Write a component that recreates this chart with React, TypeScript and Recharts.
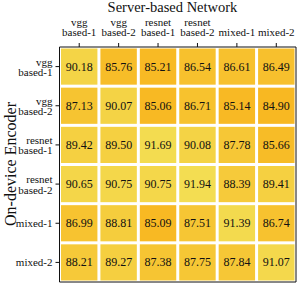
import React from "react";
import { ScatterChart, Scatter, XAxis, YAxis, ReferenceArea } from "recharts";

const serverNets = ["vgg\nbased-1", "vgg\nbased-2", "resnet\nbased-1", "resnet\nbased-2", "mixed-1", "mixed-2"];
const encoders = ["vgg\nbased-1", "vgg\nbased-2", "resnet\nbased-1", "resnet\nbased-2", "mixed-1", "mixed-2"];

const rowVgg1 = [90.18, 85.76, 85.21, 86.54, 86.61, 86.49];
const rowVgg2 = [87.13, 90.07, 85.06, 86.71, 85.14, 84.9];
const rowRes1 = [89.42, 89.5, 91.69, 90.08, 87.78, 85.66];
const rowRes2 = [90.65, 90.75, 90.75, 91.94, 88.39, 89.41];
const rowMix1 = [86.99, 88.81, 85.09, 87.51, 91.39, 86.74];
const rowMix2 = [88.21, 89.27, 87.38, 87.75, 87.84, 91.07];

const rows = [rowVgg1, rowVgg2, rowRes1, rowRes2, rowMix1, rowMix2];

const cells = rows.flatMap((r, i) => r.map((v, j) => ({ x: j + 0.5, y: i + 0.5, v })));
const ticks = [0.5, 1.5, 2.5, 3.5, 4.5, 5.5];

const W = 299;
const H = 286;
const margin = { top: 17, right: 3, bottom: 4, left: 0.5 };
const plotW = W - 59 - margin.left - margin.right;
const plotH = H - 47 - margin.bottom;
const cw = plotW / 6;
const ch = plotH / 6;

const lo = [248, 184, 34];
const hi = [243, 221, 82];
function color(v: number) {
  const t = Math.max(0, Math.min(1, (v - 84.9) / (91.94 - 84.9)));
  const c = lo.map((a, k) => Math.round(a + (hi[k] - a) * t));
  return `rgb(${c[0]},${c[1]},${c[2]})`;
}

const font = "'Liberation Serif', 'Times New Roman', serif";

function Cell(props: any) {
  const { cx, cy, payload } = props;
  return (
    <g>
      <rect x={cx - cw / 2 + 1.5} y={cy - ch / 2 + 1.5} width={cw - 3} height={ch - 3} fill={color(payload.v)} />
      <text x={cx} y={cy + 4} textAnchor="middle" fontSize={12} fontFamily={font} fill="#111">
        {payload.v.toFixed(2)}
      </text>
    </g>
  );
}

function XTick(props: any) {
  const { x, y, payload } = props;
  const lines = serverNets[Math.floor(payload.value)].split("\n");
  return (
    <text x={x} textAnchor="middle" fontSize={11} fontFamily={font} fill="#111">
      {lines.map((l, i) => (
        <tspan key={i} x={x} y={y - 5 - (lines.length - 1 - i) * 10}>{l}</tspan>
      ))}
    </text>
  );
}

function YTick(props: any) {
  const { x, y, payload } = props;
  const lines = encoders[Math.floor(payload.value)].split("\n");
  return (
    <text x={x} textAnchor="end" fontSize={11} fontFamily={font} fill="#111">
      {lines.length === 2 ? (
        <>
          <tspan x={x - 1} y={y - 1}>{lines[0]}</tspan>
          <tspan x={x - 1} y={y + 9.5}>{lines[1]}</tspan>
        </>
      ) : (
        <tspan x={x - 1} y={y + 4}>{lines[0]}</tspan>
      )}
    </text>
  );
}

export default function App() {
  return (
    <div style={{ position: "absolute", left: 0, top: 0, width: W, height: H, background: "#fff" }}>
      <div style={{ position: "absolute", left: 54, width: 237, top: -2, textAlign: "center", fontFamily: font, fontSize: 14.5, color: "#111", lineHeight: "18px" }}>
        Server-based Network
      </div>
      <div
        style={{
          position: "absolute", left: 10.5, top: 164, fontFamily: font, fontSize: 16, color: "#111",
          transform: "translate(-50%, -50%) rotate(-90deg)", whiteSpace: "nowrap", lineHeight: "18px",
        }}
      >
        On-device Encoder
      </div>
      <ScatterChart width={W} height={H} margin={margin}>
        <XAxis
          type="number" dataKey="x" orientation="top" domain={[0, 6]} ticks={ticks} height={30}
          tick={<XTick />} tickSize={4} axisLine={false} tickLine={{ stroke: "#111" }} interval={0}
        />
        <YAxis
          type="number" dataKey="y" domain={[0, 6]} reversed ticks={ticks} width={59}
          tick={<YTick />} tickSize={4} axisLine={false} tickLine={{ stroke: "#111" }} interval={0}
        />
        <Scatter data={cells} shape={<Cell />} isAnimationActive={false} />
        <ReferenceArea x1={0} x2={6} y1={0} y2={6} fill="none" stroke="#111" strokeWidth={1} />
      </ScatterChart>
    </div>
  );
}
